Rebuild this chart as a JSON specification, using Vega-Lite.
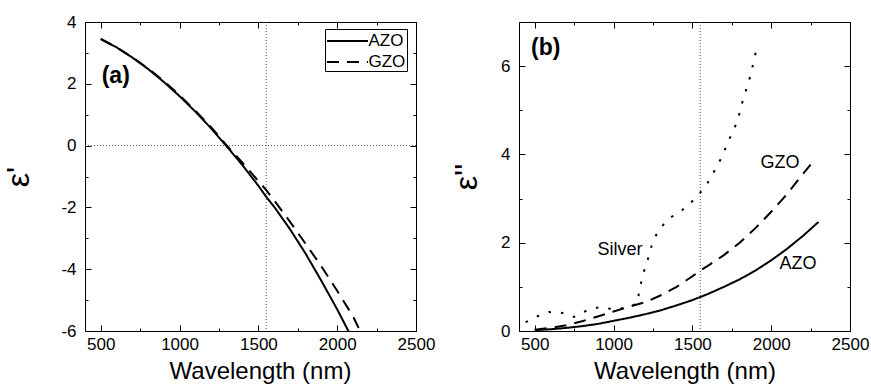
{
  "$schema": "https://vega.github.io/schema/vega-lite/v6.json",
  "padding": {"left": 2, "top": 12, "right": 0, "bottom": 0},
  "spacing": 14,
  "config": {
    "font": "Liberation Sans",
    "view": {"stroke": "black", "strokeWidth": 1},
    "axis": {"grid": false, "domain": false, "tickColor": "black", "labelColor": "black", "titleColor": "black", "labelFontSize": 17, "titleFontWeight": "normal", "labelFlush": false, "labelOverlap": false, "tickWidth": 1, "titleFontSize": 24, "labelFont": "Liberation Sans", "titleFont": "Liberation Sans"},
    "text": {"color": "black", "font": "Liberation Sans"},
    "legend": {"labelFont": "Liberation Sans", "labelFontSize": 17, "labelColor": "black"}
  },
  "datasets": {
    "eps1": [
      {"lam": 500, "val": 3.45, "series": "AZO"}, {"lam": 600, "val": 3.18, "series": "AZO"}, {"lam": 700, "val": 2.85, "series": "AZO"}, {"lam": 800, "val": 2.48, "series": "AZO"}, {"lam": 900, "val": 2.06, "series": "AZO"}, {"lam": 1000, "val": 1.6, "series": "AZO"}, {"lam": 1100, "val": 1.1, "series": "AZO"}, {"lam": 1200, "val": 0.56, "series": "AZO"}, {"lam": 1300, "val": -0.03, "series": "AZO"}, {"lam": 1400, "val": -0.64, "series": "AZO"}, {"lam": 1500, "val": -1.3, "series": "AZO"}, {"lam": 1550, "val": -1.66, "series": "AZO"}, {"lam": 1600, "val": -1.98, "series": "AZO"}, {"lam": 1700, "val": -2.7, "series": "AZO"}, {"lam": 1800, "val": -3.5, "series": "AZO"}, {"lam": 1900, "val": -4.38, "series": "AZO"}, {"lam": 2000, "val": -5.3, "series": "AZO"}, {"lam": 2071, "val": -6.0, "series": "AZO"}, {"lam": 2100, "val": -6.3, "series": "AZO"},
      {"lam": 500, "val": 3.45, "series": "GZO"}, {"lam": 600, "val": 3.18, "series": "GZO"}, {"lam": 700, "val": 2.86, "series": "GZO"}, {"lam": 800, "val": 2.5, "series": "GZO"}, {"lam": 900, "val": 2.09, "series": "GZO"}, {"lam": 1000, "val": 1.63, "series": "GZO"}, {"lam": 1100, "val": 1.13, "series": "GZO"}, {"lam": 1200, "val": 0.6, "series": "GZO"}, {"lam": 1300, "val": 0.0, "series": "GZO"}, {"lam": 1400, "val": -0.56, "series": "GZO"}, {"lam": 1500, "val": -1.15, "series": "GZO"}, {"lam": 1550, "val": -1.44, "series": "GZO"}, {"lam": 1600, "val": -1.77, "series": "GZO"}, {"lam": 1700, "val": -2.46, "series": "GZO"}, {"lam": 1800, "val": -3.18, "series": "GZO"}, {"lam": 1900, "val": -3.91, "series": "GZO"}, {"lam": 2000, "val": -4.7, "series": "GZO"}, {"lam": 2100, "val": -5.52, "series": "GZO"}, {"lam": 2145, "val": -6.0, "series": "GZO"}, {"lam": 2170, "val": -6.3, "series": "GZO"}
    ],
    "eps2": [
      {"lam": 500, "val": 0.02, "series": "AZO"}, {"lam": 600, "val": 0.04, "series": "AZO"}, {"lam": 700, "val": 0.07, "series": "AZO"}, {"lam": 800, "val": 0.11, "series": "AZO"}, {"lam": 900, "val": 0.16, "series": "AZO"}, {"lam": 1000, "val": 0.23, "series": "AZO"}, {"lam": 1100, "val": 0.3, "series": "AZO"}, {"lam": 1200, "val": 0.38, "series": "AZO"}, {"lam": 1300, "val": 0.47, "series": "AZO"}, {"lam": 1400, "val": 0.58, "series": "AZO"}, {"lam": 1500, "val": 0.7, "series": "AZO"}, {"lam": 1550, "val": 0.77, "series": "AZO"}, {"lam": 1600, "val": 0.84, "series": "AZO"}, {"lam": 1700, "val": 1.0, "series": "AZO"}, {"lam": 1800, "val": 1.17, "series": "AZO"}, {"lam": 1900, "val": 1.37, "series": "AZO"}, {"lam": 2000, "val": 1.6, "series": "AZO"}, {"lam": 2100, "val": 1.86, "series": "AZO"}, {"lam": 2200, "val": 2.15, "series": "AZO"}, {"lam": 2300, "val": 2.47, "series": "AZO"},
      {"lam": 500, "val": 0.03, "series": "GZO"}, {"lam": 600, "val": 0.07, "series": "GZO"}, {"lam": 700, "val": 0.13, "series": "GZO"}, {"lam": 800, "val": 0.22, "series": "GZO"}, {"lam": 900, "val": 0.33, "series": "GZO"}, {"lam": 1000, "val": 0.44, "series": "GZO"}, {"lam": 1100, "val": 0.55, "series": "GZO"}, {"lam": 1200, "val": 0.65, "series": "GZO"}, {"lam": 1300, "val": 0.81, "series": "GZO"}, {"lam": 1400, "val": 1.0, "series": "GZO"}, {"lam": 1500, "val": 1.24, "series": "GZO"}, {"lam": 1550, "val": 1.37, "series": "GZO"}, {"lam": 1600, "val": 1.48, "series": "GZO"}, {"lam": 1700, "val": 1.72, "series": "GZO"}, {"lam": 1800, "val": 2.0, "series": "GZO"}, {"lam": 1900, "val": 2.33, "series": "GZO"}, {"lam": 2000, "val": 2.7, "series": "GZO"}, {"lam": 2100, "val": 3.1, "series": "GZO"}, {"lam": 2200, "val": 3.55, "series": "GZO"}, {"lam": 2250, "val": 3.77, "series": "GZO"},
      {"lam": 442, "val": 0.2, "series": "Silver"}, {"lam": 516, "val": 0.33, "series": "Silver"}, {"lam": 590, "val": 0.43, "series": "Silver"}, {"lam": 675, "val": 0.41, "series": "Silver"}, {"lam": 749, "val": 0.32, "series": "Silver"}, {"lam": 834, "val": 0.47, "series": "Silver"}, {"lam": 908, "val": 0.54, "series": "Silver"}, {"lam": 992, "val": 0.5, "series": "Silver"}, {"lam": 1070, "val": 0.52, "series": "Silver"}, {"lam": 1151, "val": 0.62, "series": "Silver"}, {"lam": 1161, "val": 0.87, "series": "Silver"}, {"lam": 1178, "val": 1.15, "series": "Silver"}, {"lam": 1200, "val": 1.44, "series": "Silver"}, {"lam": 1225, "val": 1.71, "series": "Silver"}, {"lam": 1246, "val": 2.0, "series": "Silver"}, {"lam": 1288, "val": 2.3, "series": "Silver"}, {"lam": 1356, "val": 2.56, "series": "Silver"}, {"lam": 1436, "val": 2.74, "series": "Silver"}, {"lam": 1515, "val": 2.99, "series": "Silver"}, {"lam": 1585, "val": 3.28, "series": "Silver"}, {"lam": 1631, "val": 3.57, "series": "Silver"}, {"lam": 1685, "val": 3.93, "series": "Silver"}, {"lam": 1743, "val": 4.42, "series": "Silver"}, {"lam": 1786, "val": 4.75, "series": "Silver"}, {"lam": 1818, "val": 5.2, "series": "Silver"}, {"lam": 1870, "val": 5.8, "series": "Silver"}, {"lam": 1908, "val": 6.41, "series": "Silver"}
    ]
  },
  "resolve": {"scale": {"strokeDash": "independent"}, "legend": {"strokeDash": "independent"}},
  "hconcat": [
    {
      "width": 331,
      "height": 309,
      "resolve": {"axis": {"x": "independent", "y": "independent"}},
      "layer": [
        {
          "data": {"values": [{"lam": 1550}]},
          "mark": {"type": "rule", "color": "#555", "strokeWidth": 1, "strokeDash": [1, 2]},
          "encoding": {"x": {"field": "lam", "type": "quantitative", "scale": {"domain": [400, 2500], "nice": false, "zero": false},
            "axis": {"orient": "bottom", "values": [750, 1250, 1750, 2250], "labels": false, "title": null, "tickSize": 3, "offset": -3}}}
        },
        {
          "data": {"values": [{"val": 0}]},
          "mark": {"type": "rule", "color": "#555", "strokeWidth": 1, "strokeDash": [1, 2]},
          "encoding": {"y": {"field": "val", "type": "quantitative", "scale": {"domain": [-6, 4], "nice": false, "zero": false},
            "axis": {"orient": "left", "values": [-5, -3, -1, 1, 3], "labels": false, "title": null, "tickSize": 3, "offset": -3}}}
        },
        {
          "data": {"name": "eps1"},
          "transform": [{"filter": "datum.series === 'AZO'"}],
          "mark": {"type": "line", "clip": true, "strokeWidth": 2, "color": "black"},
          "encoding": {
            "x": {"field": "lam", "type": "quantitative", "scale": {"domain": [400, 2500], "nice": false, "zero": false},
              "axis": {"orient": "bottom", "values": [500, 1000, 1500, 2000, 2500], "labelExpr": "toString(datum.value)", "tickSize": 6, "offset": -6, "labelPadding": 5, "title": "Wavelength (nm)", "titlePadding": 7, "titleX": 175}},
            "y": {"field": "val", "type": "quantitative", "scale": {"domain": [-6, 4], "nice": false, "zero": false},
              "axis": {"orient": "left", "values": [-6, -4, -2, 0, 2, 4], "labelExpr": "toString(datum.value)", "tickSize": 6, "offset": -6, "labelPadding": 9, "title": "ε'", "titleFontSize": 32, "titlePadding": 25}},
            "strokeDash": {"field": "series", "type": "nominal", "scale": {"domain": ["AZO", "GZO"], "range": [[1, 0], [12, 8]]},
              "legend": {"title": null, "orient": "none", "legendX": 240, "legendY": 7, "strokeColor": "black", "padding": 1, "symbolType": "M-2.05,0H2.05", "symbolSize": 400, "symbolOffset": 10.5, "symbolStrokeWidth": 2, "symbolStrokeColor": "black", "labelOffset": 10, "rowPadding": 2}}
          }
        },
        {
          "data": {"name": "eps1"},
          "transform": [{"filter": "datum.series === 'GZO'"}],
          "mark": {"type": "line", "clip": true, "strokeWidth": 2, "color": "black"},
          "encoding": {
            "x": {"field": "lam", "type": "quantitative", "scale": {"domain": [400, 2500], "nice": false, "zero": false},
              "axis": {"orient": "top", "values": [750, 1250, 1750, 2250], "labels": false, "title": null, "tickSize": 3, "offset": -3}},
            "y": {"field": "val", "type": "quantitative", "scale": {"domain": [-6, 4], "nice": false, "zero": false},
              "axis": {"orient": "right", "values": [-5, -3, -1, 1, 3], "labels": false, "title": null, "tickSize": 3, "offset": -3}},
            "strokeDash": {"field": "series", "type": "nominal", "scale": {"domain": ["AZO", "GZO"], "range": [[1, 0], [12, 8]]}}
          }
        },
        {
          "data": {"values": [{"lam": 506, "val": 2.25, "label": "(a)"}]},
          "mark": {"type": "text", "align": "left", "baseline": "middle", "fontSize": 23, "fontWeight": "bold"},
          "encoding": {
            "x": {"field": "lam", "type": "quantitative", "scale": {"domain": [400, 2500], "nice": false, "zero": false},
              "axis": {"orient": "top", "values": [500, 1000, 1500, 2000, 2500], "labels": false, "title": null, "tickSize": 6, "offset": -6}},
            "y": {"field": "val", "type": "quantitative", "scale": {"domain": [-6, 4], "nice": false, "zero": false},
              "axis": {"orient": "right", "values": [-6, -4, -2, 0, 2, 4], "labels": false, "title": null, "tickSize": 6, "offset": -6}},
            "text": {"field": "label"}
          }
        }
      ]
    },
    {
      "width": 331,
      "height": 309,
      "resolve": {"axis": {"x": "independent", "y": "independent"}},
      "layer": [
        {
          "data": {"values": [{"lam": 1550}]},
          "mark": {"type": "rule", "color": "#555", "strokeWidth": 1, "strokeDash": [1, 2]},
          "encoding": {"x": {"field": "lam", "type": "quantitative", "scale": {"domain": [400, 2500], "nice": false, "zero": false},
            "axis": {"orient": "bottom", "values": [750, 1250, 1750, 2250], "labels": false, "title": null, "tickSize": 3, "offset": -3}}}
        },
        {
          "data": {"name": "eps2"},
          "transform": [{"filter": "datum.series === 'AZO'"}],
          "mark": {"type": "line", "clip": true, "strokeWidth": 2, "color": "black"},
          "encoding": {
            "x": {"field": "lam", "type": "quantitative", "scale": {"domain": [400, 2500], "nice": false, "zero": false},
              "axis": {"orient": "bottom", "values": [500, 1000, 1500, 2000, 2500], "labelExpr": "toString(datum.value)", "tickSize": 6, "offset": -6, "labelPadding": 5, "title": "Wavelength (nm)", "titlePadding": 7}},
            "y": {"field": "val", "type": "quantitative", "scale": {"domain": [0, 7], "nice": false, "zero": false},
              "axis": {"orient": "left", "values": [0, 2, 4, 6], "labelExpr": "toString(datum.value)", "tickSize": 6, "offset": -6, "labelPadding": 9, "title": "ε''", "titleFontSize": 32, "titlePadding": 17}},
            "strokeDash": {"field": "series", "type": "nominal", "scale": {"domain": ["AZO", "GZO", "Silver"], "range": [[1, 0], [12, 8], [2.5, 10]]}, "legend": null}
          }
        },
        {
          "data": {"name": "eps2"},
          "transform": [{"filter": "datum.series === 'GZO'"}],
          "mark": {"type": "line", "clip": true, "strokeWidth": 2, "color": "black"},
          "encoding": {
            "x": {"field": "lam", "type": "quantitative", "scale": {"domain": [400, 2500], "nice": false, "zero": false},
              "axis": {"orient": "top", "values": [750, 1250, 1750, 2250], "labels": false, "title": null, "tickSize": 3, "offset": -3}},
            "y": {"field": "val", "type": "quantitative", "scale": {"domain": [0, 7], "nice": false, "zero": false},
              "axis": {"orient": "right", "values": [1, 3, 5, 7], "labels": false, "title": null, "tickSize": 3, "offset": -3}},
            "strokeDash": {"field": "series", "type": "nominal", "scale": {"domain": ["AZO", "GZO", "Silver"], "range": [[1, 0], [12, 8], [2.5, 10]]}, "legend": null}
          }
        },
        {
          "data": {"name": "eps2"},
          "transform": [{"filter": "datum.series === 'Silver'"}],
          "mark": {"type": "line", "clip": true, "strokeWidth": 2, "color": "black"},
          "encoding": {
            "x": {"field": "lam", "type": "quantitative", "scale": {"domain": [400, 2500], "nice": false, "zero": false}, "axis": null},
            "y": {"field": "val", "type": "quantitative", "scale": {"domain": [0, 7], "nice": false, "zero": false},
              "axis": {"orient": "left", "values": [1, 3, 5, 7], "labels": false, "title": null, "tickSize": 3, "offset": -3}},
            "strokeDash": {"field": "series", "type": "nominal", "scale": {"domain": ["AZO", "GZO", "Silver"], "range": [[1, 0], [12, 8], [2.5, 10]]}, "legend": null}
          }
        },
        {
          "data": {"values": [{"lam": 1041, "val": 1.83, "label": "Silver"}, {"lam": 2056, "val": 3.8, "label": "GZO"}, {"lam": 2170, "val": 1.52, "label": "AZO"}]},
          "mark": {"type": "text", "align": "center", "baseline": "middle", "fontSize": 18},
          "encoding": {
            "x": {"field": "lam", "type": "quantitative", "scale": {"domain": [400, 2500], "nice": false, "zero": false},
              "axis": {"orient": "top", "values": [500, 1000, 1500, 2000, 2500], "labels": false, "title": null, "tickSize": 6, "offset": -6}},
            "y": {"field": "val", "type": "quantitative", "scale": {"domain": [0, 7], "nice": false, "zero": false},
              "axis": {"orient": "right", "values": [0, 2, 4, 6], "labels": false, "title": null, "tickSize": 6, "offset": -6}},
            "text": {"field": "label"}
          }
        },
        {
          "data": {"values": [{"lam": 476, "val": 6.4, "label": "(b)"}]},
          "mark": {"type": "text", "align": "left", "baseline": "middle", "fontSize": 23, "fontWeight": "bold"},
          "encoding": {
            "x": {"field": "lam", "type": "quantitative", "scale": {"domain": [400, 2500], "nice": false, "zero": false}, "axis": null},
            "y": {"field": "val", "type": "quantitative", "scale": {"domain": [0, 7], "nice": false, "zero": false}, "axis": null},
            "text": {"field": "label"}
          }
        }
      ]
    }
  ]
}
